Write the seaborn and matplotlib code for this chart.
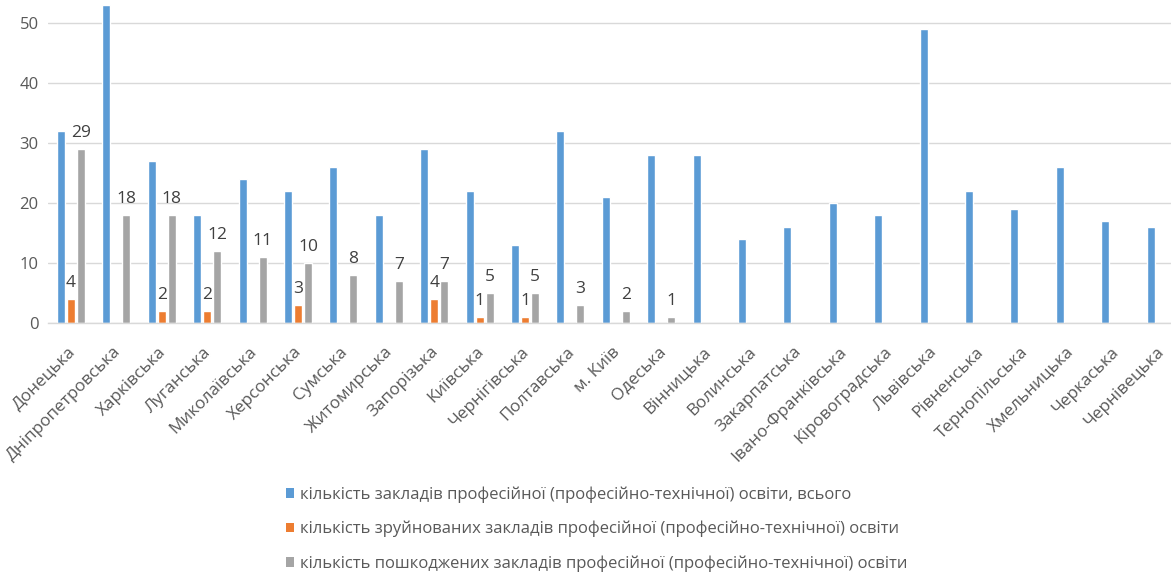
import matplotlib
matplotlib.use("Agg")
import matplotlib.pyplot as plt
import matplotlib.transforms as mtransforms
import seaborn as sns
import pandas as pd
from matplotlib.patches import Patch

regions = ["Донецька", "Дніпропетровська", "Харківська", "Луганська", "Миколаївська",
           "Херсонська", "Сумська", "Житомирська", "Запорізька", "Київська",
           "Чернігівська", "Полтавська", "м. Київ", "Одеська", "Вінницька",
           "Волинська", "Закарпатська", "Івано-Франківська", "Кіровоградська", "Львівська",
           "Рівненська", "Тернопільська", "Хмельницька", "Черкаська", "Чернівецька"]
total = [32, 53, 27, 18, 24, 22, 26, 18, 29, 22, 13, 32, 21, 28, 28,
         14, 16, 20, 18, 49, 22, 19, 26, 17, 16]
destroyed = [4, 0, 2, 2, 0, 3, 0, 0, 4, 1, 1, 0, 0, 0, 0,
             0, 0, 0, 0, 0, 0, 0, 0, 0, 0]
damaged = [29, 18, 18, 12, 11, 10, 8, 7, 7, 5, 5, 3, 2, 1, 0,
           0, 0, 0, 0, 0, 0, 0, 0, 0, 0]
series_names = ["кількість закладів професійної (професійно-технічної) освіти, всього",
                "кількість зруйнованих закладів професійної (професійно-технічної) освіти",
                "кількість пошкоджених закладів професійної (професійно-технічної) освіти"]
colors = ["#5B9BD5", "#ED7D31", "#A5A5A5"]

df = pd.DataFrame({
    "region": regions * 3,
    "value": total + destroyed + damaged,
    "series": [series_names[0]] * len(regions) + [series_names[1]] * len(regions)
              + [series_names[2]] * len(regions),
})

sns.set_style("white")
plt.rcParams["font.family"] = ["Open Sans", "DejaVu Sans"]

fig = plt.figure(figsize=(11.71, 5.73), dpi=100)
ax = fig.add_axes([48.3 / 1171, (573 - 323) / 573, (1171 - 48.3) / 1171, 321 / 573])

sns.barplot(data=df, x="region", y="value", hue="series", hue_order=series_names,
            order=regions, palette=colors, width=0.66, gap=0.2, ax=ax,
            legend=False, saturation=1, errorbar=None)

ax.set_xlim(-0.5, (1171 - 71) / 45.4)
ax.set_ylim(0, 53.5)
ax.set_yticks([0, 10, 20, 30, 40, 50])
ax.yaxis.grid(True, color="#D9D9D9", linewidth=1)
ax.set_axisbelow(True)
for s in ["top", "right", "left"]:
    ax.spines[s].set_visible(False)
ax.spines["bottom"].set_color("#D9D9D9")
ax.spines["bottom"].set_linewidth(1)
ax.set_xlabel("")
ax.set_ylabel("")
ax.tick_params(axis="both", length=0, colors="#595959")
ax.tick_params(axis="y", pad=7, labelsize=12)
ax.tick_params(axis="x", pad=15, labelsize=12.3)
offset = mtransforms.ScaledTranslation(-4 / 100, 0, fig.dpi_scale_trans)
for lab in ax.get_xticklabels():
    lab.set_rotation(45)
    lab.set_ha("right")
    lab.set_rotation_mode("anchor")
    lab.set_transform(lab.get_transform() + offset)

for cont, vals in zip(ax.containers[1:], [destroyed, damaged]):
    labels = [str(v) if v > 0 else "" for v in vals]
    ax.bar_label(cont, labels=labels, padding=6, fontsize=12.5, color="#404040")

handles = [Patch(facecolor=c, edgecolor="none") for c in colors]
fig.legend(handles, series_names, loc="upper left", bbox_to_anchor=(278 / 1171, 1 - 478 / 573),
           frameon=False, fontsize=12, labelcolor="#595959", handlelength=0.48,
           handleheight=0.48, handletextpad=0.36, labelspacing=1.08, borderpad=0)

fig.savefig("out.png", dpi=100, facecolor="white")
